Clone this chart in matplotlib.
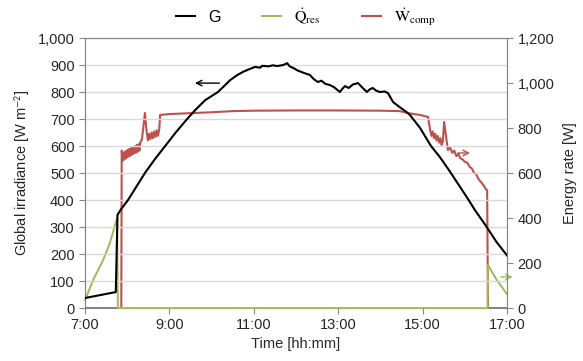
import matplotlib.pyplot as plt
import matplotlib.ticker as mticker
import numpy as np

plt.rcParams['font.family'] = ['Liberation Sans', 'DejaVu Sans']
plt.rcParams['mathtext.fontset'] = 'stix'

# time in decimal hours
t_g = [7.00, 7.73, 7.77, 7.85, 8.02, 8.20, 8.42, 8.65, 8.90, 9.15, 9.42, 9.61,
       9.85, 10.15, 10.25, 10.44, 10.60, 10.75, 10.90, 11.03, 11.15, 11.20,
       11.35, 11.45, 11.55, 11.70, 11.79, 11.85, 11.95, 12.02, 12.10, 12.20,
       12.33, 12.42, 12.52, 12.60, 12.70, 12.80, 12.90, 13.04, 13.10, 13.16,
       13.25, 13.35, 13.47, 13.55, 13.68, 13.75, 13.82, 13.90, 13.99, 14.10,
       14.18, 14.30, 14.45, 14.60, 14.70, 14.94, 15.20, 15.41, 15.65, 15.89,
       16.05, 16.24, 16.52, 16.75, 17.00]
g = [37, 59, 345, 365, 400, 445, 500, 550, 600, 650, 700, 733,
     770, 800, 815, 844, 862, 875, 885, 893, 890, 897,
     895, 899, 896, 900, 907, 895, 888, 881, 876, 870,
     863, 848, 837, 842, 830, 826, 818, 800, 812, 822,
     815, 828, 833, 820, 800, 810, 815, 805, 800, 802,
     796, 763, 745, 728, 715, 667, 600, 559, 505, 448,
     410, 363, 300, 245, 195]

t_q = [7.00, 7.19, 7.43, 7.59, 7.76, 7.78, 16.54, 16.55, 16.76, 17.00]
q_res = [35, 124, 213, 289, 400, 0, 0, 191, 124, 62]

t_w = [7.00, 7.86, 7.87, 7.89, 7.91, 7.93, 7.95, 7.97, 7.99, 8.01, 8.03, 8.05,
       8.07, 8.09, 8.11, 8.13, 8.15, 8.17, 8.19, 8.21, 8.23, 8.25, 8.27, 8.29,
       8.31, 8.35, 8.42, 8.45, 8.49, 8.52, 8.55, 8.58, 8.61, 8.64, 8.67, 8.70,
       8.73, 8.76, 8.78, 9.00, 9.50, 10.00, 10.50, 11.00, 12.00, 13.00, 14.00,
       14.46, 14.70, 14.94, 15.13, 15.18, 15.21, 15.24, 15.27, 15.30, 15.33,
       15.36, 15.39, 15.42, 15.45, 15.48, 15.51, 15.60, 15.65, 15.70, 15.75,
       15.80, 15.85, 15.89, 15.95, 16.00, 16.06, 16.12, 16.17, 16.22, 16.27,
       16.32, 16.36, 16.40, 16.45, 16.49, 16.53, 16.55, 17.00]
w_comp = [0, 0, 700, 655, 690, 660, 695, 665, 700, 670, 705, 675,
          708, 678, 712, 683, 716, 688, 720, 690, 725, 695, 728, 700,
          735, 750, 867, 800, 745, 775, 750, 780, 755, 785, 760, 790,
          765, 795, 858, 862, 866, 870, 875, 877, 878, 878, 877,
          875, 865, 858, 849, 790, 765, 785, 755, 775, 745, 765, 735,
          755, 725, 740, 827, 702, 715, 690, 700, 675, 685, 667, 660,
          650, 645, 627, 620, 600, 595, 575, 565, 556, 545, 530, 524, 0, 0]

xticks = [7, 9, 11, 13, 15, 17]

fig = plt.figure(figsize=(5.83, 3.61), dpi=100)
ax = fig.add_axes([0.1458, 0.1468, 0.7238, 0.7479])
ax2 = ax.twinx()

spine_c = '#868686'
ax.plot(t_g, g, color='black', lw=1.5, label='G', zorder=3)
ax2.plot(t_w, w_comp, color='#c0504d', lw=1.5, zorder=2,
         label=r'$\dot{\mathrm{W}}_{\mathrm{comp}}$')
ax2.plot(t_q, q_res, color='#9bbb59', lw=1.4, zorder=3, clip_on=False,
         label=r'$\dot{\mathrm{Q}}_{\mathrm{res}}$')
ax.set_zorder(ax2.get_zorder() + 1)
ax.patch.set_visible(False)
ax.spines['bottom'].set_visible(False)

ax.set_xlim(7, 17)
ax.set_ylim(0, 1000)
ax2.set_ylim(0, 1200)
ax.set_xticks(xticks)
ax.set_yticks(np.arange(0, 1001, 100))
ax2.set_yticks(np.arange(0, 1201, 200))
ax.xaxis.set_major_formatter(mticker.FuncFormatter(lambda v, p: '%d:00' % v))
ax.yaxis.set_major_formatter(mticker.FuncFormatter(lambda v, p: format(int(v), ',')))
ax2.yaxis.set_major_formatter(mticker.FuncFormatter(lambda v, p: format(int(v), ',')))
ax.grid(axis='y', color='#d9d9d9', lw=1)
ax.set_axisbelow(True)

for a in (ax, ax2):
    for s in a.spines.values():
        s.set_color(spine_c)
    a.tick_params(colors=spine_c, labelcolor='#262626', labelsize=10.5, length=4)

ax.set_xlabel('Time [hh:mm]', fontsize=10.5, color='#262626', labelpad=3)
ax.set_ylabel(r'Global irradiance [W m$^{\mathsf{-2}}$]', fontsize=10.5, color='#262626', labelpad=4)
ax2.set_ylabel('Energy rate [W]', fontsize=10.5, color='#262626', labelpad=6)

# direction arrows
ax.annotate('', xy=(9.54, 833), xytext=(10.25, 833),
            arrowprops=dict(arrowstyle='->', color='black', lw=1))
ax2.annotate('', xy=(16.19, 689), xytext=(15.77, 689),
             arrowprops=dict(arrowstyle='->', color='#c0504d', lw=1))
ax2.annotate('', xy=(17.2, 138), xytext=(16.79, 138),
             arrowprops=dict(arrowstyle='->', color='#9bbb59', lw=1), annotation_clip=False)

h1, l1 = ax.get_legend_handles_labels()
h2, l2 = ax2.get_legend_handles_labels()
order = [1, 0]
fig.legend(h1 + [h2[i] for i in order], l1 + [l2[i] for i in order], loc='center',
           bbox_to_anchor=(0.525, 0.953), ncol=3, frameon=False, fontsize=11.5,
           handlelength=1.2, columnspacing=2.6)

fig.savefig('out.png', dpi=100)
